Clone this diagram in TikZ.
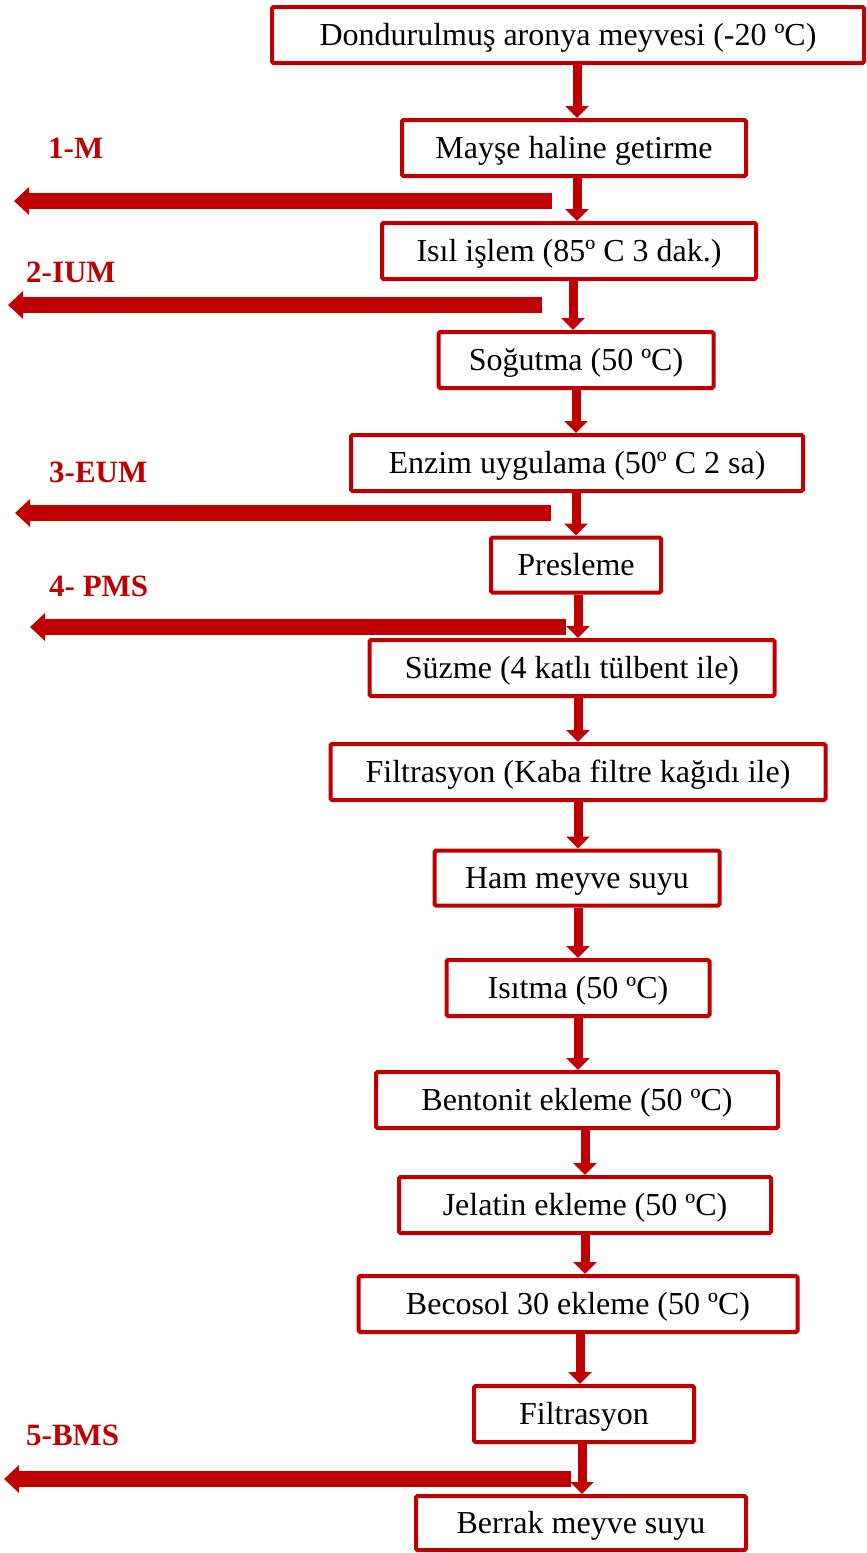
\documentclass[tikz,border=0pt]{standalone}
\usepackage{fontspec}
\setmainfont{Liberation Serif}
\usetikzlibrary{arrows.meta}
\definecolor{dred}{RGB}{192,0,0}
\tikzset{
  stepbox/.style={draw=dred, line width=4pt, fill=white, minimum height=56pt, inner sep=0pt,
    rounded corners=1.5pt, text height=21pt, text depth=0pt,
    font=\fontsize{32}{38}\selectfont, text=black},
  flow/.style={draw=dred, line width=9pt, -{Triangle[width=23pt,length=12pt]}},
  bigarrow/.style={draw=dred, line width=15.5pt, -{Triangle[width=27pt,length=15pt]}},
  lbl/.style={anchor=west, inner sep=0pt, text=dred, font=\fontsize{31}{36}\selectfont\bfseries}
}
\begin{document}
\begin{tikzpicture}[x=1pt,y=-1pt]
\useasboundingbox (0,0) rectangle (867,1553);
\node[stepbox, minimum width=592pt] (n1) at (568,35) {Dondurulmuş aronya meyvesi (-20 ºC)};
\node[stepbox, minimum width=344pt] (n2) at (574,148) {Mayşe haline getirme};
\node[stepbox, minimum width=374pt] (n3) at (569,251) {Isıl işlem (85º C 3 dak.)};
\node[stepbox, minimum width=275pt] (n4) at (576,360) {Soğutma (50 ºC)};
\node[stepbox, minimum width=452pt] (n5) at (577,463) {Enzim uygulama (50º C 2 sa)};
\node[stepbox, minimum width=170pt, minimum height=55pt] (n6) at (576,565) {Presleme};
\node[stepbox, minimum width=405pt] (n7) at (572,668) {Süzme (4 katlı tülbent ile)};
\node[stepbox, minimum width=495pt] (n8) at (578,772) {Filtrasyon (Kaba filtre kağıdı ile)};
\node[stepbox, minimum width=285pt, minimum height=55pt] (n9) at (577,878) {Ham meyve suyu};
\node[stepbox, minimum width=263pt] (n10) at (578,988) {Isıtma (50 ºC)};
\node[stepbox, minimum width=402pt] (n11) at (577,1100) {Bentonit ekleme (50 ºC)};
\node[stepbox, minimum width=372pt] (n12) at (585,1205) {Jelatin ekleme (50 ºC)};
\node[stepbox, minimum width=439pt] (n13) at (578,1304) {Becosol 30 ekleme (50 ºC)};
\node[stepbox, minimum width=220pt] (n14) at (584,1414) {Filtrasyon};
\node[stepbox, minimum width=330pt, minimum height=54pt] (n15) at (581,1523) {Berrak meyve suyu};

\draw[flow] (n1.south -| 577,0) -- (n2.north -| 577,0);
\draw[flow] (n2.south -| 577,0) -- (n3.north -| 577,0);
\draw[flow] (n3.south -| 573,0) -- (n4.north -| 573,0);
\draw[flow] (n4.south -| 576,0) -- (n5.north -| 576,0);
\draw[flow] (n5.south -| 576,0) -- (n6.north -| 576,0);
\draw[flow] (n6.south -| 578,0) -- (n7.north -| 578,0);
\draw[flow] (n7.south -| 578,0) -- (n8.north -| 578,0);
\draw[flow] (n8.south -| 578,0) -- (n9.north -| 578,0);
\draw[flow] (n9.south -| 578,0) -- (n10.north -| 578,0);
\draw[flow] (n10.south -| 578,0) -- (n11.north -| 578,0);
\draw[flow] (n11.south -| 585,0) -- (n12.north -| 585,0);
\draw[flow] (n12.south -| 585,0) -- (n13.north -| 585,0);
\draw[flow] (n13.south -| 580,0) -- (n14.north -| 580,0);
\draw[flow] (n14.south -| 582,0) -- (n15.north -| 582,0);

\coordinate (s1) at (552,201); \coordinate (e1) at (14,201);
\coordinate (s2) at (542,305); \coordinate (e2) at (8,305);
\coordinate (s3) at (551,513); \coordinate (e3) at (15,513);
\coordinate (s4) at (566,627); \coordinate (e4) at (30,627);
\coordinate (s5) at (571,1479); \coordinate (e5) at (4,1479);
\draw[bigarrow] (s1) -- (e1);
\draw[bigarrow] (s2) -- (e2);
\draw[bigarrow] (s3) -- (e3);
\draw[bigarrow] (s4) -- (e4);
\draw[bigarrow] (s5) -- (e5);

\node[lbl] (l1) at (48,148) {1-M};
\node[lbl] (l2) at (26,272) {2-IUM};
\node[lbl] (l3) at (49,472) {3-EUM};
\node[lbl] (l4) at (49,586) {4- PMS};
\node[lbl] (l5) at (26,1435) {5-BMS};
\end{tikzpicture}
\end{document}
